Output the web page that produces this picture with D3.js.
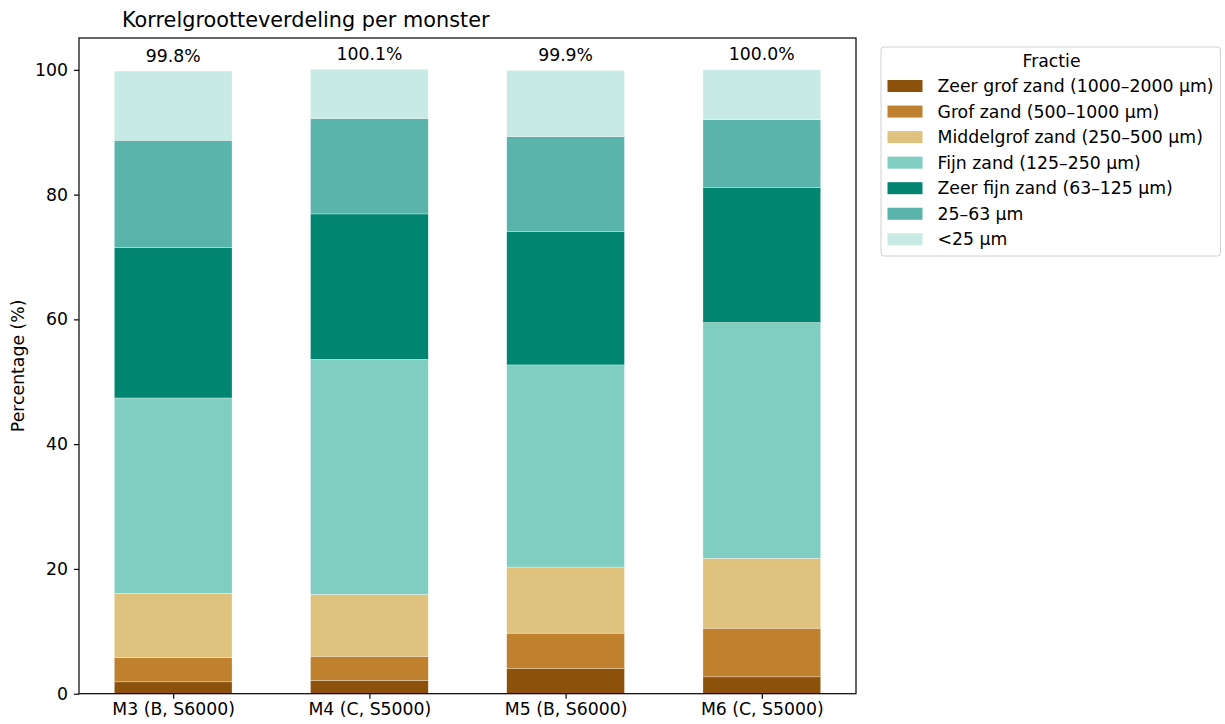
<!DOCTYPE html>
<html>
<head>
<meta charset="utf-8">
<script src="https://cdn.jsdelivr.net/npm/d3@7"></script>
<style>
  body { margin: 0; background: #fff; }
  svg text { font-family: "DejaVu Sans", sans-serif; fill: #000; }
</style>
</head>
<body>
<div id="chart"></div>
<script>
// samples (x categories)
const samples = ["M3 (B, S6000)", "M4 (C, S5000)", "M5 (B, S6000)", "M6 (C, S5000)"];
// fractions, bottom to top of the stack
const fractions = [
  "Zeer grof zand (1000–2000 µm)",
  "Grof zand (500–1000 µm)",
  "Middelgrof zand (250–500 µm)",
  "Fijn zand (125–250 µm)",
  "Zeer fijn zand (63–125 µm)",
  "25–63 µm",
  "<25 µm"
];
const fracColors = ["#8c510a", "#bf812d", "#dfc27d", "#80cdc1", "#018571", "#5ab4ac", "#c7eae5"];

// percentage per fraction, one value per sample
const zeerGrof   = [1.9, 2.1, 4.0, 2.7];
const grof       = [3.9, 3.9, 5.7, 7.8];
const middelgrof = [10.3, 9.9, 10.6, 11.2];
const fijn       = [31.3, 37.7, 32.4, 37.8];
const zeerFijn   = [24.1, 23.3, 21.4, 21.6];
const silt       = [17.2, 15.3, 15.2, 10.9];
const klei       = [11.1, 7.9, 10.6, 8.0];
const totals     = [99.8, 100.1, 99.9, 100.0];
const yTicks = [0, 20, 40, 60, 80, 100];

const series = [zeerGrof, grof, middelgrof, fijn, zeerFijn, silt, klei];

const W = 1225, H = 724;
const margin = { left: 79, right: 369, top: 38, bottom: 30.3 };
const fs = 17.3;

const svg = d3.select("#chart").append("svg")
  .attr("width", W).attr("height", H);

// matplotlib-like limits: bars at 0..3, width 0.6, 5% margins
const x = d3.scaleLinear().domain([-0.48, 3.48]).range([margin.left, W - margin.right]);
const y = d3.scaleLinear().domain([0, 105.1]).range([H - margin.bottom, margin.top]);
const barW = 0.6;

const rows = samples.map((s, i) => {
  const r = { sample: s, i };
  fractions.forEach((f, k) => r[f] = series[k][i]);
  return r;
});
const stacked = d3.stack().keys(fractions)(rows);

stacked.forEach((layer, k) => {
  svg.append("g").selectAll("rect")
    .data(layer)
    .join("rect")
    .attr("x", d => x(d.data.i - barW / 2))
    .attr("width", d => x(barW) - x(0))
    .attr("y", d => y(d[1]))
    .attr("height", d => y(d[0]) - y(d[1]))
    .attr("fill", fracColors[k])
    .attr("stroke", "#fff")
    .attr("stroke-opacity", 0.6)
    .attr("stroke-width", 0.5);
});

// total labels
svg.append("g").selectAll("text")
  .data(totals)
  .join("text")
  .attr("x", (d, i) => x(i))
  .attr("y", d => y(d) - 9.5)
  .attr("text-anchor", "middle")
  .attr("font-size", fs)
  .text(d => d.toFixed(1) + "%");

// axes
const yAxis = svg.append("g")
  .attr("transform", `translate(${margin.left},0)`)
  .call(d3.axisLeft(y).tickValues(yTicks).tickSize(5).tickPadding(6));
const xAxis = svg.append("g")
  .attr("transform", `translate(0,${H - margin.bottom})`)
  .call(d3.axisBottom(x).tickValues(d3.range(samples.length)).tickSize(5).tickPadding(4)
    .tickFormat(i => samples[i]));
[xAxis, yAxis].forEach(a => {
  a.select(".domain").remove();
  a.selectAll("line").attr("stroke", "#000").attr("stroke-width", 1.2);
  a.selectAll("text").attr("font-size", fs).attr("font-family", "DejaVu Sans").attr("fill", "#000");
});

// frame
svg.append("rect")
  .attr("x", margin.left).attr("y", margin.top)
  .attr("width", W - margin.right - margin.left)
  .attr("height", H - margin.bottom - margin.top)
  .attr("fill", "none").attr("stroke", "#000").attr("stroke-width", 1.2);

// title and y label
svg.append("text")
  .attr("x", 122).attr("y", 27)
  .attr("font-size", 20.8)
  .text("Korrelgrootteverdeling per monster");
svg.append("text")
  .attr("transform", `translate(24,${(margin.top + H - margin.bottom) / 2}) rotate(-90)`)
  .attr("text-anchor", "middle")
  .attr("font-size", fs)
  .text("Percentage (%)");

// legend
const lg = svg.append("g").attr("transform", "translate(881,47)");
lg.append("rect")
  .attr("width", 339.5).attr("height", 209).attr("rx", 3)
  .attr("fill", "#fff").attr("fill-opacity", 0.8)
  .attr("stroke", "#d0d0d0");
lg.append("text")
  .attr("x", 170.5).attr("y", 20)
  .attr("text-anchor", "middle")
  .attr("font-size", fs)
  .text("Fractie");
const items = lg.selectAll("g.item")
  .data(fractions)
  .join("g")
  .attr("class", "item")
  .attr("transform", (d, k) => `translate(0,${39 + k * 25.55})`);
items.append("rect")
  .attr("x", 6.5).attr("y", -6).attr("width", 35).attr("height", 12)
  .attr("fill", (d, k) => fracColors[k]);
items.append("text")
  .attr("x", 56.5).attr("y", 6)
  .attr("font-size", fs)
  .text(d => d);
</script>
</body>
</html>
